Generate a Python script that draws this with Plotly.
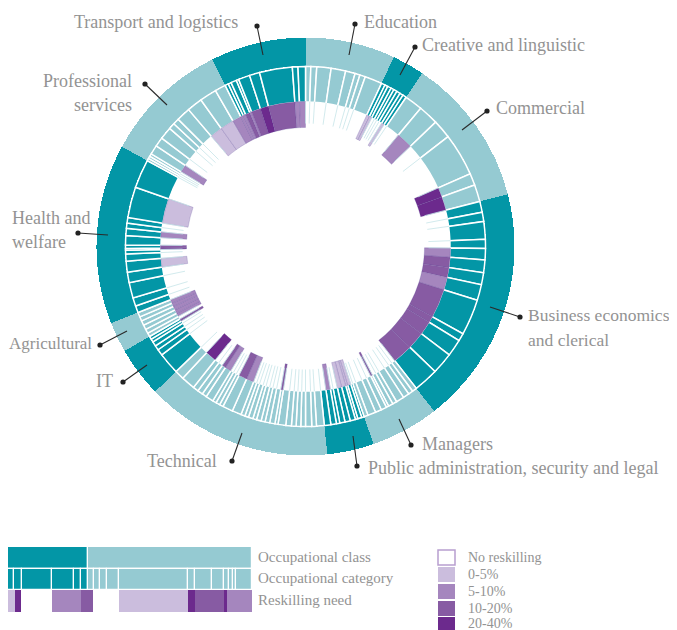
import plotly.graph_objects as go

# ---------------- data ----------------
class_names = ["Education", "Creative and linguistic", "Commercial",
               "Business economics and clerical", "Managers",
               "Public administration, security and legal", "Technical", "IT",
               "Agricultural", "Health and welfare", "Professional services",
               "Transport and logistics"]
class_shade = ["light", "dark", "light", "dark", "light", "dark",
               "light", "dark", "light", "dark", "light", "dark"]

# occupational category sizes (share of the circle, degrees) and reskilling level
# level: 0 = no reskilling, 1 = 0-5%, 2 = 5-10%, 3 = 10-20%, 4 = 20-40%
education_sizes = [1.7, 1.9, 4.6, 4.7, 3.1, 1.6, 1.8, 5.6]
education_need = [0, 0, 0, 0, 0, 0, 0, 0]
creative_sizes = [1.2, 1.0, 1.2, 1.0, 1.1, 1.2, 1.1, 1.2]
creative_need = [1, 1, 0, 0, 0, 0, 1, 0]
commercial_sizes = [5.8, 6.5, 6.1, 13.8, 3.8, 5.5]
commercial_need = [0, 2, 0, 0, 4, 4]
business_sizes = [3.5, 3.0, 5.7, 2.9, 3.7, 4.1, 3.9, 5.1, 11.6, 2.5, 5.5, 7.0, 8.0]
business_need = [0, 0, 0, 0, 2, 3, 3, 2, 3, 3, 3, 3, 3]
managers_sizes = [1.5, 1.5, 2.0, 2.6, 1.4, 1.5, 0.8, 1.8, 2.0, 2.6, 1.3]
managers_need = [0, 0, 0, 0, 0, 0, 3, 0, 0, 0, 0]
public_sizes = [0.8, 1.3, 0.8, 1.7, 1.7, 1.7, 1.1, 1.8, 2.1]
public_need = [0, 1, 1, 1, 1, 0, 0, 2, 0]
technical_sizes = [2.5, 1.5, 2.0, 1.5, 1.5, 1.5, 1.8, 2.5, 1.0, 1.7, 1.5, 1.3, 1.5, 1.2,
                   1.5, 1.2, 1.3, 3.0, 3.3, 1.2, 1.3, 1.2, 2.5, 1.5, 1.7, 1.8, 4.5, 3.0]
technical_need = [0, 0, 0, 0, 0, 0, 0, 0, 3, 0, 0, 0, 0, 0,
                  0, 0, 0, 2, 3, 0, 0, 0, 2, 3, 0, 0, 4, 0]
it_sizes = [7.0, 2.0, 1.5, 1.5, 1.0, 1.0]
it_need = [0, 0, 0, 0, 0, 3]
agricultural_sizes = [1.2, 1.4, 1.5, 1.5, 1.4, 1.5]
agricultural_need = [0, 2, 2, 2, 2, 2]
health_sizes = [2.2, 2.7, 5.0, 3.4, 3.5, 2.3, 1.2, 0.6, 1.1, 3.0, 2.3, 1.7, 1.8, 9.9, 9.3]
health_need = [0, 0, 0, 0, 1, 0, 0, 3, 3, 0, 2, 0, 0, 1, 0]
professional_sizes = [0.8, 0.8, 0.9, 3.0, 3.0, 4.0, 2.0, 2.0, 4.5, 5.0, 5.5, 3.5]
professional_need = [0, 0, 0, 2, 0, 0, 0, 0, 0, 1, 1, 2]
transport_sizes = [1.1, 1.0, 1.8, 0.8, 3.7, 3.3, 10.6, 1.8, 2.4]
transport_need = [2, 2, 3, 2, 3, 4, 3, 2, 2]

need_labels = ["No reskilling", "0-5%", "5-10%", "10-20%", "20-40%"]

# illustrative strip legend
legend_class_widths = [243, 490]
legend_class_shade = ["dark", "light"]
legend_cat_widths = [20, 25, 91, 64, 22, 21, 18, 17, 20, 37, 208, 20, 50, 37, 13, 12, 10, 48]
legend_cat_shade = ["dark"] * 6 + ["light"] * 12
legend_need_widths = [23, 20, 93, 85, 35, 79, 208, 20, 87, 8, 75]
legend_need_levels = [1, 4, 0, 2, 3, 0, 1, 4, 3, 4, 2]
legend_row_names = ["Occupational class", "Occupational category", "Reskilling need"]

# ---------------- styling ----------------
W, H = 677, 630
OFF = 8  # page body margin added by the browser
DARK, LIGHT = "#0396a6", "#95cad2"
shade_color = {"dark": DARK, "light": LIGHT}
need_colors = ["#ffffff", "#cbbddd", "#a586be", "#875ba3", "#6c2a8d"]
TXT = "#939393"
FONT = "Liberation Serif"


def fx(x):
    return min(max((x - OFF) / W, 0.0), 1.0)


def fy(y):
    return min(max(1 - (y - OFF) / H, 0.0), 1.0)


all_sizes = [education_sizes, creative_sizes, commercial_sizes, business_sizes,
             managers_sizes, public_sizes, technical_sizes, it_sizes,
             agricultural_sizes, health_sizes, professional_sizes, transport_sizes]
all_need = [education_need, creative_need, commercial_need, business_need,
            managers_need, public_need, technical_need, it_need,
            agricultural_need, health_need, professional_need, transport_need]

# ---------------- build rings ----------------
cls_theta, cls_width, cls_col = [], [], []
cat_theta, cat_width, cat_col = [], [], []
need_theta, need_width, need_col = [], [], []
line_theta, line_r = [], []
pos = 0.0
R_IN0, R_IN1 = 119.0, 145.0
for sizes, needs, shade in zip(all_sizes, all_need, class_shade):
    total = sum(sizes)
    cls_theta.append(pos + total / 2)
    cls_width.append(total)
    cls_col.append(shade_color[shade])
    p = pos
    prev_need = None
    for s, n in zip(sizes, needs):
        cat_theta.append(p + s / 2)
        cat_width.append(s)
        cat_col.append(shade_color[shade])
        if n > 0:
            need_theta.append(p + s / 2)
            need_width.append(s)
            need_col.append(need_colors[n])
        if n == 0 or (prev_need == 0):
            line_theta += [p, p, None]
            line_r += [R_IN1, R_IN0 + 4, None]
        prev_need = n
        p += s
    pos += total

fig = go.Figure()
fig.add_trace(go.Barpolar(theta=cls_theta, width=cls_width, r=[28.5] * len(cls_theta),
                          base=180.5, marker=dict(color=cls_col, line=dict(width=0)),
                          hoverinfo="skip", showlegend=False))
fig.add_trace(go.Barpolar(theta=cat_theta, width=cat_width, r=[35.5] * len(cat_theta),
                          base=144.5, marker=dict(color=cat_col, line=dict(color="white", width=1.5)),
                          hoverinfo="skip", showlegend=False))
fig.add_trace(go.Barpolar(theta=need_theta, width=need_width, r=[R_IN1 - R_IN0] * len(need_theta),
                          base=R_IN0, marker=dict(color=need_col,
                                                  line=dict(color="rgba(90,70,150,0.45)", width=0.5)),
                          hoverinfo="skip", showlegend=False))
fig.add_trace(go.Scatterpolar(theta=line_theta, r=line_r, mode="lines",
                              line=dict(color="#c6e5e9", width=0.8),
                              hoverinfo="skip", showlegend=False))


# ---------------- strip legend ----------------
def starts(ws):
    out, c = [], 0
    for w in ws:
        out.append(c)
        c += w
    return out


for row, widths, cols, lw in [
    (legend_row_names[0], legend_class_widths, [shade_color[s] for s in legend_class_shade], 1.2),
    (legend_row_names[1], legend_cat_widths, [shade_color[s] for s in legend_cat_shade], 1.2),
    (legend_row_names[2], legend_need_widths, [need_colors[l] for l in legend_need_levels], 0),
]:
    fig.add_trace(go.Bar(y=[row] * len(widths), x=widths, base=starts(widths), orientation="h",
                         marker=dict(color=cols, line=dict(color="white", width=lw)),
                         xaxis="x", yaxis="y", hoverinfo="skip", showlegend=False, width=1.0))

annotations = []
shapes = []
for i, name in enumerate(legend_row_names):
    annotations.append(dict(text=name, x=fx(256), y=fy([557, 578, 600][i]), xref="paper",
                            yref="paper", xanchor="left", yanchor="middle", showarrow=False,
                            font=dict(family=FONT, size=15, color=TXT)))

# reskilling key
key_top = [550, 567, 584, 601, 617]
key_text_y = [557, 574.5, 591.5, 608, 623]
for i, lab in enumerate(need_labels):
    y0, y1 = key_top[i], key_top[i] + 15
    shapes.append(dict(type="rect", xref="paper", yref="paper",
                       x0=fx(438), x1=fx(455), y0=fy(min(y1, 630)), y1=fy(y0),
                       fillcolor=need_colors[i],
                       line=dict(color="#b89fd0" if i == 0 else need_colors[i], width=1.5 if i == 0 else 0)))
    annotations.append(dict(text=lab, x=fx(466), y=fy(key_text_y[i]), xref="paper", yref="paper",
                            xanchor="left", yanchor="middle", showarrow=False,
                            font=dict(family=FONT, size=14, color=TXT)))

# class labels with pointers
labels = [
    ("Transport and logistics", 240, 22, "right", 18),
    ("Education", 362, 22, "left", 18),
    ("Creative and linguistic", 420, 45, "left", 18),
    ("Commercial", 494, 108, "left", 18),
    ("Business economics", 526, 315, "left", 17.5),
    ("and clerical", 526, 340, "left", 17.5),
    ("Managers", 420, 444, "left", 18),
    ("Public administration, security and legal", 366, 468, "left", 18),
    ("Technical", 219, 461, "right", 18),
    ("IT", 115, 381, "right", 18),
    ("Agricultural", 94, 343, "right", 17),
    ("Health and", 10, 218, "left", 18),
    ("welfare", 10, 242, "left", 18),
    ("Professional", 134, 81, "right", 18),
    ("services", 134, 105, "right", 18),
]
for t, x, y, a, fs in labels:
    annotations.append(dict(text=t, x=fx(x), y=fy(y), xref="paper", yref="paper",
                            xanchor=a, yanchor="middle", showarrow=False,
                            font=dict(family=FONT, size=fs, color=TXT)))

pointers = [((257, 26), (263, 55)), ((355, 24), (349, 55)), ((415, 47), (400, 75)),
            ((487, 111), (462, 130)), ((520, 317), (490, 307)), ((411, 445), (399, 419)),
            ((357, 466), (353, 436)), ((232, 461), (242, 433)), ((123, 382), (147, 365)),
            ((100, 345), (127, 331)), ((78, 233), (108, 235)), ((145, 84), (167, 105))]
for (dx, dy), (ex, ey) in pointers:
    shapes.append(dict(type="line", xref="paper", yref="paper", x0=fx(dx), y0=fy(dy),
                       x1=fx(ex), y1=fy(ey), line=dict(color="#2a2a2a", width=1.1)))
    shapes.append(dict(type="circle", xref="paper", yref="paper",
                       x0=fx(dx - 2.6), x1=fx(dx + 2.6), y0=fy(dy + 2.6), y1=fy(dy - 2.6),
                       fillcolor="#222222", line=dict(width=0)))

# strip legend spans screen x 7..252; the visible page starts at OFF
strip_total = sum(legend_class_widths)
strip_x0, strip_x1 = 7, 252
vis_x0 = max(strip_x0, OFF)
range_lo = (vis_x0 - strip_x0) * strip_total / (strip_x1 - strip_x0)

cx, cy, R = 305.5, 246.5, 209.5
fig.update_layout(
    width=W, height=H, margin=dict(l=0, r=0, t=0, b=0),
    paper_bgcolor="white", plot_bgcolor="white",
    polar=dict(domain=dict(x=[fx(cx - R), fx(cx + R)], y=[fy(cy + R), fy(cy - R)]),
               bgcolor="rgba(0,0,0,0)",
               radialaxis=dict(range=[0, R], visible=False),
               angularaxis=dict(rotation=90, direction="clockwise", visible=False)),
    xaxis=dict(domain=[fx(vis_x0), fx(strip_x1)], range=[range_lo, strip_total],
               visible=False, fixedrange=True),
    yaxis=dict(domain=[fy(612), fy(547)], categoryorder="array",
               categoryarray=legend_row_names[::-1], range=[-0.5, 2.5], visible=False),
    barmode="overlay", bargap=0,
    annotations=annotations, shapes=shapes, showlegend=False,
)
fig.write_html("out.html")
